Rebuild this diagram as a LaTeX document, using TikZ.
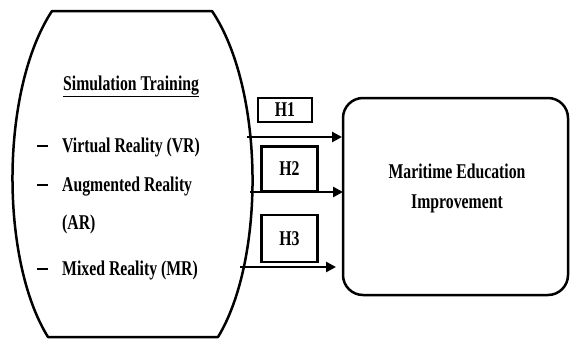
\documentclass[tikz,border=0pt]{standalone}
\usepackage{fontspec}
\setmainfont{Liberation Serif}[FakeStretch=0.75]
\usetikzlibrary{arrows.meta}
\tikzset{
  line/.style={line width=2.5pt},
  hbox/.style={draw,line width=2.5pt,inner sep=0pt,font=\fontsize{21}{21}\selectfont\bfseries},
  arr/.style={line width=2.5pt,-{Triangle[length=10pt,width=10pt]}},
  txt/.style={font=\fontsize{21}{21}\selectfont\bfseries,inner sep=0pt},
}
\begin{document}
\begin{tikzpicture}[x=1pt,y=-1pt]
\useasboundingbox (0,0) rectangle (570,340);
% left shape
\draw[line,line join=round] (52,11) -- (212,11) .. controls (265,90) and (265,260) .. (218,337)
  -- (48,337) .. controls (0,260) and (0,90) .. (52,11) -- cycle;
\node[txt,anchor=base west] (title) at (63,90) {\underline{Simulation Training}};
\node[txt,anchor=base west] (vr) at (62,152) {Virtual Reality (VR)};
\node[txt,anchor=base west] (ar) at (62,191) {Augmented Reality};
\node[txt,anchor=base west] (ar2) at (62,229) {(AR)};
\node[txt,anchor=base west] (mr) at (62,275) {Mixed Reality (MR)};
\draw[line width=2.2pt] (37,146) -- (48,146);
\draw[line width=2.2pt] (37,185) -- (48,185);
\draw[line width=2.2pt] (37,269) -- (48,269);
% right box
\node[draw,line width=2.5pt,rounded corners=20pt,minimum width=225pt,minimum height=197pt,inner sep=0pt] (out) at (455.5,196.5) {};
\node[txt,anchor=base] (outt1) at (457,178) {Maritime Education};
\node[txt,anchor=base] (outt2) at (457,208) {Improvement};
% hypothesis boxes
\node[hbox,minimum width=54pt,minimum height=24pt] (h1) at (285,110) {H1};
\node[hbox,minimum width=56pt,minimum height=45pt] (h2) at (289.5,169) {H2};
\node[hbox,minimum width=56pt,minimum height=47pt] (h3) at (289.5,238.5) {H3};
% arrows
\coordinate (s1) at (247,137);
\coordinate (s2) at (250,192);
\coordinate (s3) at (240,267);
\coordinate (e1) at (342,137);
\coordinate (e2) at (343,192);
\coordinate (e3) at (336,267);
\draw[arr] (s1) -- (e1);
\draw[arr] (s2) -- (e2);
\draw[arr] (s3) -- (e3);
\end{tikzpicture}
\end{document}
